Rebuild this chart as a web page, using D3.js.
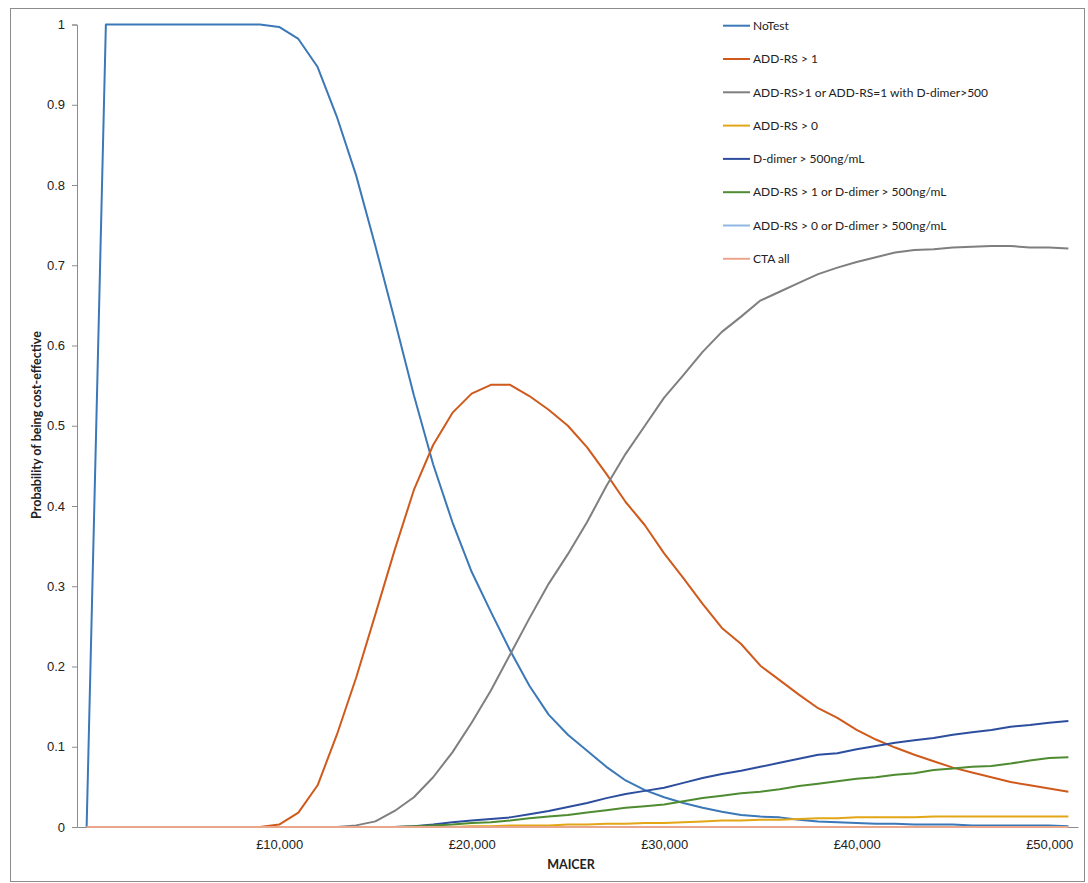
<!DOCTYPE html>
<html>
<head>
<meta charset="utf-8">
<script src="https://cdn.jsdelivr.net/npm/d3@7"></script>
<style>
  body { margin: 0; background: #fff; }
  svg { font-family: Lato, "Liberation Sans", sans-serif; }
  .tick text { fill: #222; }
</style>
</head>
<body>
<script>
var width = 1088,
    height = 883;

// MAICER (£), one point every £1,000
var maicer = [0, 1000, 2000, 3000, 4000, 5000, 6000, 7000, 8000, 9000,
  10000, 11000, 12000, 13000, 14000, 15000, 16000, 17000, 18000, 19000,
  20000, 21000, 22000, 23000, 24000, 25000, 26000, 27000, 28000, 29000,
  30000, 31000, 32000, 33000, 34000, 35000, 36000, 37000, 38000, 39000,
  40000, 41000, 42000, 43000, 44000, 45000, 46000, 47000, 48000, 49000,
  50000, 51000];

var seriesNames = ["NoTest", "ADD-RS > 1", "ADD-RS>1 or ADD-RS=1 with D-dimer>500",
  "ADD-RS > 0", "D-dimer > 500ng/mL", "ADD-RS > 1 or D-dimer > 500ng/mL",
  "ADD-RS > 0 or D-dimer > 500ng/mL", "CTA all"];

var seriesColors = ["#3b78b8", "#cf5a1c", "#7f7f7f", "#e3a616",
  "#2d4e9e", "#4f8b30", "#8fb7e2", "#eaa68b"];

var noTest = [0, 1, 1, 1, 1, 1, 1, 1, 1, 1,
  0.997, 0.982, 0.947, 0.885, 0.812, 0.724, 0.632, 0.538, 0.452, 0.38,
  0.318, 0.268, 0.22, 0.176, 0.14, 0.115, 0.095, 0.075, 0.058, 0.046,
  0.037, 0.03, 0.024, 0.019, 0.015, 0.013, 0.012, 0.009, 0.007, 0.006,
  0.005, 0.004, 0.004, 0.003, 0.003, 0.003, 0.002, 0.002, 0.002, 0.002,
  0.002, 0.001];

var addRs1 = [0, 0, 0, 0, 0, 0, 0, 0, 0, 0,
  0.003, 0.018, 0.052, 0.115, 0.186, 0.265, 0.345, 0.42, 0.476, 0.516,
  0.54, 0.551, 0.551, 0.537, 0.52, 0.5, 0.473, 0.44, 0.405, 0.376,
  0.341, 0.31, 0.278, 0.248, 0.228, 0.201, 0.183, 0.165, 0.148, 0.136,
  0.121, 0.109, 0.099, 0.09, 0.082, 0.074, 0.068, 0.062, 0.056, 0.052,
  0.048, 0.044];

var addRs1Dd = [0, 0, 0, 0, 0, 0, 0, 0, 0, 0,
  0, 0, 0, 0, 0.002, 0.007, 0.02, 0.037, 0.062, 0.093,
  0.13, 0.17, 0.215, 0.26, 0.303, 0.34, 0.38, 0.425, 0.465, 0.5,
  0.535, 0.563, 0.592, 0.617, 0.636, 0.656, 0.667, 0.678, 0.689, 0.697,
  0.704, 0.71, 0.716, 0.719, 0.72, 0.722, 0.723, 0.724, 0.724, 0.722,
  0.722, 0.721];

var addRs0 = [0, 0, 0, 0, 0, 0, 0, 0, 0, 0,
  0, 0, 0, 0, 0, 0, 0, 0, 0, 0,
  0.001, 0.001, 0.002, 0.002, 0.002, 0.003, 0.003, 0.004, 0.004, 0.005,
  0.005, 0.006, 0.007, 0.008, 0.008, 0.009, 0.009, 0.01, 0.011, 0.011,
  0.012, 0.012, 0.012, 0.012, 0.013, 0.013, 0.013, 0.013, 0.013, 0.013,
  0.013, 0.013];

var dDimer = [0, 0, 0, 0, 0, 0, 0, 0, 0, 0,
  0, 0, 0, 0, 0, 0, 0, 0.001, 0.003, 0.006,
  0.008, 0.01, 0.012, 0.016, 0.02, 0.025, 0.03, 0.036, 0.041, 0.045,
  0.049, 0.055, 0.061, 0.066, 0.07, 0.075, 0.08, 0.085, 0.09, 0.092,
  0.097, 0.101, 0.105, 0.108, 0.111, 0.115, 0.118, 0.121, 0.125, 0.127,
  0.13, 0.132];

var addRs1OrDd = [0, 0, 0, 0, 0, 0, 0, 0, 0, 0,
  0, 0, 0, 0, 0, 0, 0, 0.001, 0.002, 0.003,
  0.005, 0.006, 0.008, 0.011, 0.013, 0.015, 0.018, 0.021, 0.024, 0.026,
  0.028, 0.032, 0.036, 0.039, 0.042, 0.044, 0.047, 0.051, 0.054, 0.057,
  0.06, 0.062, 0.065, 0.067, 0.071, 0.073, 0.075, 0.076, 0.079, 0.083,
  0.086, 0.087];

var addRs0OrDd = [0, 0, 0, 0, 0, 0, 0, 0, 0, 0,
  0, 0, 0, 0, 0, 0, 0, 0, 0, 0,
  0, 0, 0, 0, 0, 0, 0, 0, 0, 0,
  0, 0, 0, 0, 0, 0, 0, 0, 0, 0,
  0, 0, 0, 0, 0, 0, 0, 0, 0, 0,
  0, 0];

var ctaAll = [0, 0, 0, 0, 0, 0, 0, 0, 0, 0,
  0, 0, 0, 0, 0, 0, 0, 0, 0, 0,
  0, 0, 0, 0, 0, 0, 0, 0, 0, 0,
  0, 0, 0, 0, 0, 0, 0, 0, 0, 0,
  0, 0, 0, 0, 0, 0, 0, 0, 0, 0,
  0, 0];

var seriesValues = [noTest, addRs1, addRs1Dd, addRs0, dDimer, addRs1OrDd, addRs0OrDd, ctaAll];

var yTicks = [0, 0.1, 0.2, 0.3, 0.4, 0.5, 0.6, 0.7, 0.8, 0.9, 1];
var xTicks = [10000, 20000, 30000, 40000, 50000];

var svg = d3.select("body").append("svg")
    .attr("width", width)
    .attr("height", height);

// chart border
svg.append("rect")
    .attr("x", 10.5).attr("y", 8.5)
    .attr("width", 1074).attr("height", 873)
    .attr("fill", "#fff")
    .attr("stroke", "#8c8c8c");

// categories are centred in their slot, like an Excel category axis
var x = d3.scaleLinear()
    .domain([-500, 51500])
    .range([77, 1078]);

var y = d3.scaleLinear()
    .domain([0, 1])
    .range([827, 24.5]);

// y axis
var yAxis = svg.append("g")
    .attr("transform", "translate(77,0)")
    .call(d3.axisLeft(y).tickValues(yTicks).tickSize(5).tickPadding(7)
        .tickFormat(function (d) { return d3.format("")(+d.toFixed(1)); }));
yAxis.select(".domain").attr("stroke", "#8c8c8c");
yAxis.selectAll(".tick line").attr("stroke", "#8c8c8c");
yAxis.selectAll(".tick text").attr("font-size", 13);

// x axis
var xAxis = svg.append("g")
    .attr("transform", "translate(0,827)")
    .call(d3.axisBottom(x).tickValues(xTicks).tickSize(0).tickPadding(13)
        .tickFormat(function (d) { return "£" + d3.format(",")(d); }));
xAxis.select(".domain").attr("stroke", "#8c8c8c");
xAxis.selectAll(".tick text").attr("font-size", 13);

// axis titles
svg.append("text")
    .attr("transform", "translate(41,425) rotate(-90)")
    .attr("text-anchor", "middle")
    .attr("font-size", 12.5)
    .attr("font-weight", "bold")
    .attr("fill", "#222")
    .text("Probability of being cost-effective");

svg.append("text")
    .attr("x", 571).attr("y", 869)
    .attr("text-anchor", "middle")
    .attr("font-size", 12.5)
    .attr("font-weight", "bold")
    .attr("fill", "#222")
    .text("MAICER");

// lines
var line = d3.line()
    .x(function (d, i) { return x(maicer[i]); })
    .y(function (d) { return y(d); });

svg.selectAll("path.series")
    .data(seriesValues)
    .enter().append("path")
    .attr("class", "series")
    .attr("d", line)
    .attr("fill", "none")
    .attr("stroke", function (d, i) { return seriesColors[i]; })
    .attr("stroke-width", 2)
    .attr("stroke-linejoin", "round");

// legend
var legend = svg.selectAll("g.legend")
    .data(seriesNames)
    .enter().append("g")
    .attr("class", "legend")
    .attr("transform", function (d, i) { return "translate(723," + (25.7 + 33.3 * i) + ")"; });

legend.append("line")
    .attr("x1", 0).attr("x2", 27)
    .attr("stroke", function (d, i) { return seriesColors[i]; })
    .attr("stroke-width", 2);

legend.append("text")
    .attr("x", 30)
    .attr("dy", "0.35em")
    .attr("font-size", 12)
    .attr("fill", "#222")
    .text(function (d) { return d; });
</script>
</body>
</html>
